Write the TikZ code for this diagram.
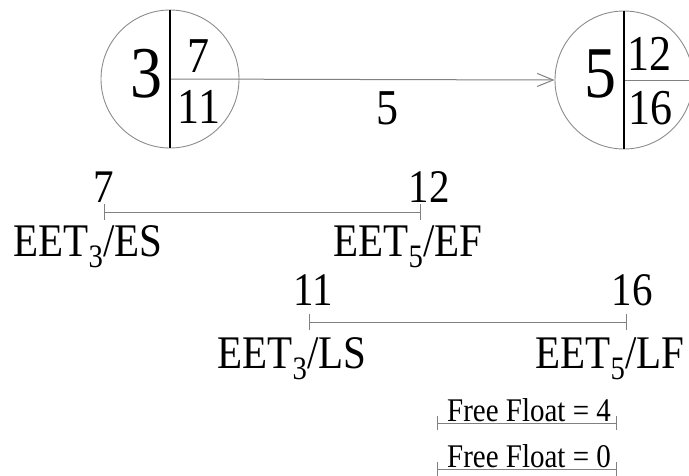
\documentclass[tikz,border=0pt]{standalone}
\usepackage{fontspec}
\setmainfont{Liberation Serif}
\usetikzlibrary{arrows.meta}

% text in this chart is set slightly taller than the font's own proportions
\newcommand{\tallset}[1]{\scalebox{1}[1.14]{#1}}

\tikzset{
  event/.style={circle, draw=black!45, line width=0.9pt, minimum size=138pt, inner sep=0pt},
  divider/.style={draw=black, line width=2pt},
  link/.style={draw=black!50, line width=1pt},
  span/.style={draw=black!50, line width=1pt, {Bar[width=16pt]}-{Bar[width=16pt]}},
  floatspan/.style={draw=black!50, line width=1pt, {Bar[width=14pt]}-{Bar[width=14pt]}},
  bignum/.style={anchor=base, inner sep=0pt, font=\fontsize{64}{70}\selectfont},
  cellnum/.style={anchor=base, inner sep=0pt, font=\fontsize{44}{50}\selectfont},
  lbl/.style={anchor=base, inner sep=0pt, font=\fontsize{41}{46}\selectfont},
  small/.style={anchor=base, inner sep=0pt, font=\fontsize{29}{33}\selectfont},
}

\begin{document}
\begin{tikzpicture}[x=1pt, y=-1pt]
\useasboundingbox (0,0) rectangle (689,475);

% event circles
\node[event] (e3) at (170,79) {};
\node[event] (e5) at (624,80) {};

% activity arrow and cell dividers
\draw[link, -{Straight Barb[length=16pt, width=13pt]}] (e3.center) -- (e5.west);
\draw[link] (e5.center) -- (e5.east);
\draw[divider] (e3.north) -- (e3.south);
\draw[divider] (e5.north) -- (e5.south);

% event numbers and times
\node[bignum] (n3) at (146,97) {\tallset{3}};
\node[cellnum] (t3a) at (198,72) {\tallset{7}};
\node[cellnum] (t3b) at (199,123) {\tallset{11}};
\node[bignum] (n5) at (600,97) {\tallset{5}};
\node[cellnum] (t5a) at (649,70) {\tallset{12}};
\node[cellnum] (t5b) at (650,124) {\tallset{16}};
\node[cellnum] (dur) at (387,124) {\tallset{5}};

% early start / early finish
\coordinate (es) at (104,212);
\coordinate (ef) at (421,212);
\draw[span] (es) -- (ef);
\node[lbl] (esv) at (104,202) {\tallset{7}};
\node[lbl] (efv) at (429,202) {\tallset{12}};
\node[lbl] (esl) at (88,256) {\tallset{EET\textsubscript{3}/ES}};
\node[lbl] (efl) at (408,256) {\tallset{EET\textsubscript{5}/EF}};

% late start / late finish
\coordinate (ls) at (309,322);
\coordinate (lf) at (627,322);
\draw[span] (ls) -- (lf);
\node[lbl] (lsv) at (313,305) {\tallset{11}};
\node[lbl] (lfv) at (632,305) {\tallset{16}};
\node[lbl] (lsl) at (292,368) {\tallset{EET\textsubscript{3}/LS}};
\node[lbl] (lfl) at (610,368) {\tallset{EET\textsubscript{5}/LF}};

% floats
\coordinate (f1a) at (437,423);
\coordinate (f1b) at (617,423);
\draw[floatspan] (f1a) -- (f1b);
\node[small] (ff) at (529,421) {\tallset{Free Float = 4}};
\coordinate (f2a) at (437,469);
\coordinate (f2b) at (617,469);
\draw[floatspan] (f2a) -- (f2b);
\node[small] (tf) at (529,467) {\tallset{Free Float = 0}};
\end{tikzpicture}
\end{document}
